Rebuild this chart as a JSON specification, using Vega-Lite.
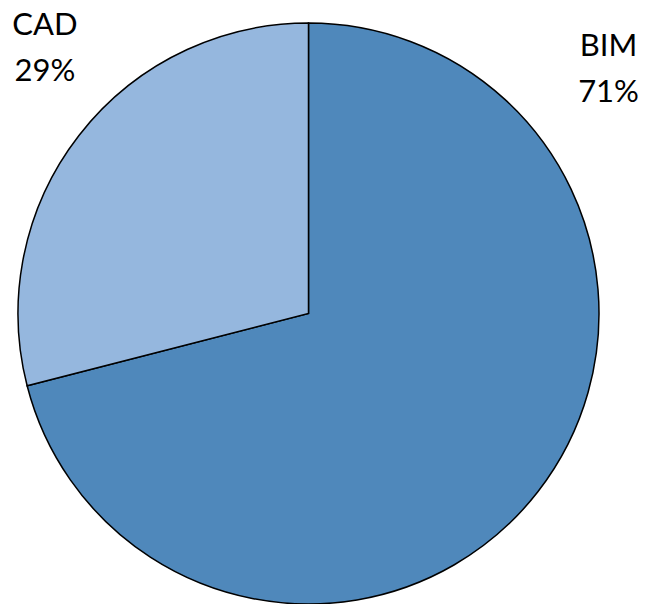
{
  "$schema": "https://vega.github.io/schema/vega-lite/v6.json",
  "width": 583,
  "height": 581,
  "padding": {"left": 17, "top": 23, "right": 48, "bottom": 0},
  "autosize": {"type": "none"},
  "background": "white",
  "config": {"view": {"stroke": null}},
  "data": {"values": [
    {"cat": "BIM", "value": 71, "ord": 1, "label": "BIM\n71%", "la": 49.36, "lr": 395.4},
    {"cat": "CAD", "value": 29, "ord": 2, "label": "CAD\n29%", "la": 316.58, "lr": 383.4}
  ]},
  "resolve": {"scale": {"theta": "independent", "radius": "independent"}},
  "layer": [
    {
      "mark": {"type": "arc", "stroke": "black", "strokeWidth": 1.5},
      "encoding": {
        "theta": {"field": "value", "type": "quantitative", "stack": true},
        "order": {"field": "ord", "type": "quantitative"},
        "color": {"field": "cat", "type": "nominal", "legend": null,
          "scale": {"domain": ["BIM", "CAD"], "range": ["#4F88BB", "#95B7DE"]}}
      }
    },
    {
      "mark": {"type": "text", "font": "Lato", "fontSize": 31, "align": "center", "baseline": "alphabetic", "lineHeight": 46, "lineBreak": "\n", "color": "black"},
      "encoding": {
        "theta": {"field": "la", "type": "quantitative", "stack": null, "scale": {"domain": [0, 360], "range": [0, 6.283185307179586]}},
        "radius": {"field": "lr", "type": "quantitative", "scale": {"type": "linear", "domain": [0, 400], "range": [0, 400], "zero": true}},
        "text": {"field": "label", "type": "nominal"}
      }
    }
  ]
}
